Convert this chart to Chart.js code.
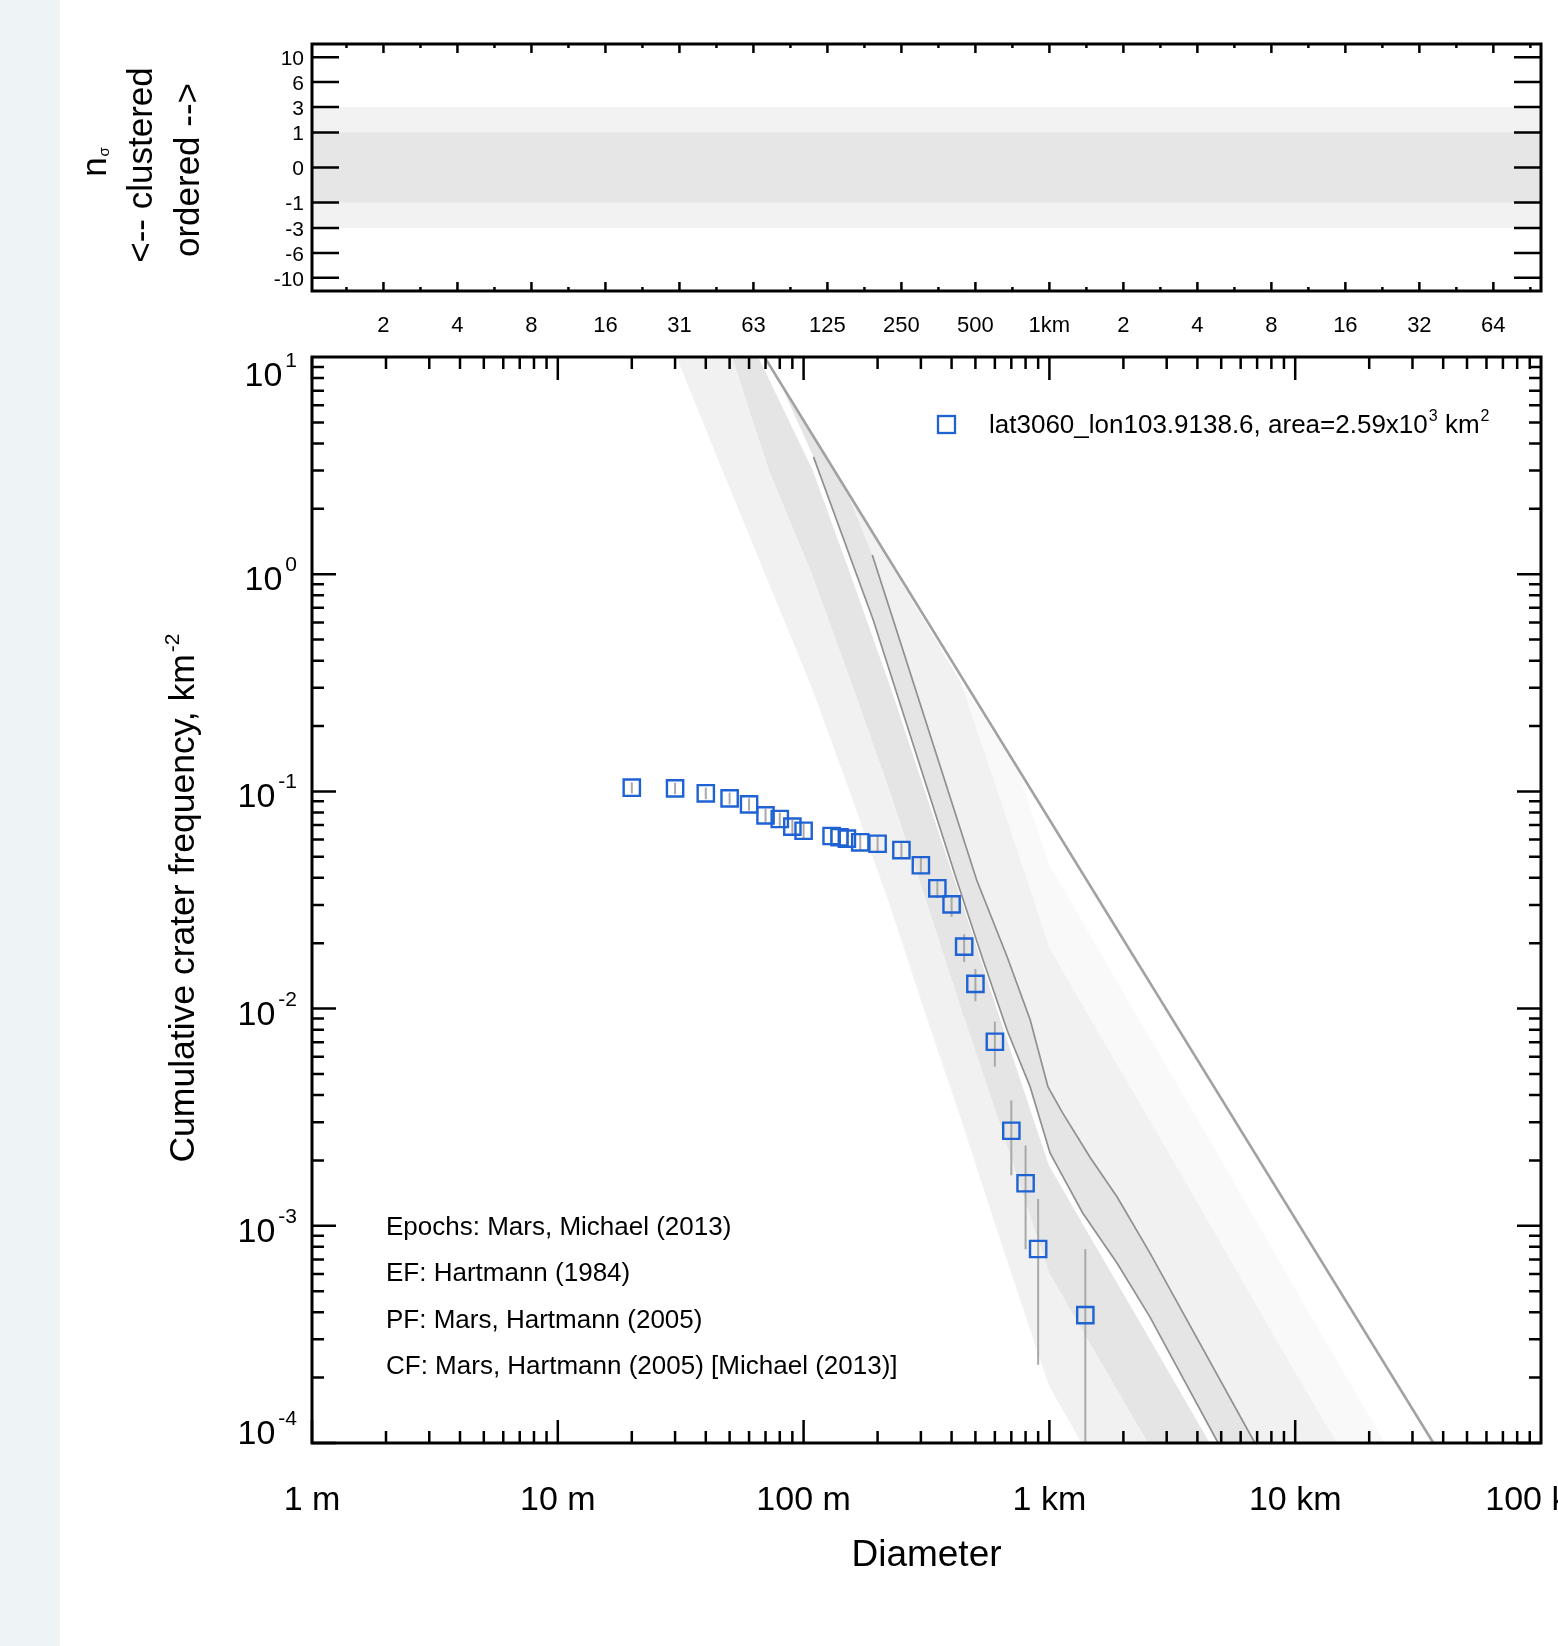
<!DOCTYPE html>
<html>
<head>
<meta charset="utf-8">
<script src="https://cdn.jsdelivr.net/npm/chart.js@4.4.0/dist/chart.umd.min.js"></script>
<style>
  html, body { margin: 0; padding: 0; background: #fff; }
  body { width: 1558px; height: 1646px; position: relative; overflow: hidden; }
  #strip { position: absolute; left: 0; top: 0; width: 60px; height: 1646px; background: #eef3f5; }
  canvas { position: absolute; left: 0; top: 0; }
</style>
</head>
<body>
<div id="strip"></div>
<canvas id="mainChart" width="1558" height="1646"></canvas>
<canvas id="sigmaChart" width="1558" height="1646"></canvas>
<script>
// crater counts: diameter (km) vs cumulative frequency (km^-2)
const diameters = [0.020, 0.030, 0.040, 0.050, 0.060, 0.070, 0.080, 0.090, 0.100, 0.130, 0.140, 0.150, 0.170,
                   0.200, 0.250, 0.300, 0.350, 0.400, 0.450, 0.500, 0.600, 0.700, 0.800, 0.900, 1.400];
const frequencies = [0.104, 0.1033, 0.098, 0.0929, 0.0872, 0.0776, 0.0746, 0.0688, 0.0659, 0.0623, 0.0615, 0.0606, 0.0583,
                     0.0574, 0.0537, 0.0457, 0.0358, 0.0302, 0.0193, 0.0130, 0.00704, 0.00274, 0.00157, 0.000782, 0.000388];
const errLow = [0.0977, 0.0970, 0.0919, 0.0870, 0.0814, 0.0721, 0.0692, 0.0636, 0.0608, 0.0574, 0.0566, 0.0558, 0.0536,
                0.0527, 0.0491, 0.0415, 0.0323, 0.0264, 0.0164, 0.0108, 0.0054, 0.00171, 0.00078, 0.000229, 0.000001];
const errHigh = [0.1103, 0.1096, 0.1041, 0.0988, 0.0930, 0.0831, 0.0800, 0.0740, 0.0710, 0.0672, 0.0664, 0.0654, 0.0630,
                 0.0621, 0.0583, 0.0499, 0.0391, 0.0333, 0.0220, 0.0152, 0.0087, 0.00377, 0.00234, 0.00133, 0.00078];

// equilibrium function and isochrone-like curves, [D km, N km^-2]
const equilibrium = [[0.06935, 10], [36.49, 0.0001]];
const iso1 = [[0.1097, 3.47], [0.192, 0.615], [0.4195, 0.0391], [0.5365, 0.01677], [0.673, 0.00795], [0.835, 0.00436],
              [1.007, 0.00216], [1.366, 0.001146], [1.889, 0.000671], [2.563, 0.000381], [4.857, 0.0001]];
const iso2 = [[0.1903, 1.225], [0.2316, 0.615], [0.506, 0.0391], [0.673, 0.01734], [0.835, 0.00889], [0.987, 0.00436],
              [1.133, 0.0033], [1.463, 0.002067], [1.889, 0.001354], [2.563, 0.00075], [6.855, 0.0001]];

// epoch shading boundaries
const edge0 = [[0.0304, 10], [0.0468, 3.0], [0.0697, 1.0], [0.108, 0.3], [0.154, 0.1], [0.224, 0.03], [0.308, 0.01],
               [0.441, 0.003], [0.604, 0.001], [0.860, 0.0003], [0.997, 0.000183], [1.352, 0.0001]];
const edge1 = [[0.0511, 10], [0.0722, 3.0], [0.108, 1.0], [0.159, 0.3], [0.224, 0.1], [0.319, 0.03], [0.436, 0.01],
               [0.625, 0.003], [0.860, 0.001], [0.997, 0.000607], [1.427, 0.0003], [2.513, 0.0001]];
const edge2 = [[0.0654, 10], [0.109, 3.0], [0.155, 1.0], [0.226, 0.3], [0.312, 0.1], [0.445, 0.03], [0.610, 0.01],
               [0.869, 0.003], [0.997, 0.00189], [1.379, 0.001], [2.563, 0.0003], [4.49, 0.0001]];
const edge4 = [[0.4364, 0.317], [0.6157, 0.1], [0.8774, 0.03], [0.997, 0.01916], [1.388, 0.01], [2.589, 0.003],
               [4.535, 0.001], [8.346, 0.0003], [14.77, 0.0001]];
const edge5 = [[0.7494, 0.123], [0.7954, 0.1], [0.997, 0.0462], [1.245, 0.03], [2.179, 0.01], [4.07, 0.003],
               [7.131, 0.001], [13.12, 0.0003], [23.2, 0.0001]];
const iso1Top = [0.0788, 7.91];
const iso2Top = [0.1494, 2.43];

// axis ticks
const xTickValues = [0.001, 0.01, 0.1, 1, 10, 100];
const xTickLabels = ['1 m', '10 m', '100 m', '1 km', '10 km', '100 km'];
const yTickValues = [10, 1, 0.1, 0.01, 0.001, 0.0001];
const yTickExps = ['1', '0', '-1', '-2', '-3', '-4'];
const sigmaTicks = [10, 6, 3, 1, 0, -1, -3, -6, -10];
const topTickValues = [0.001953125, 0.00390625, 0.0078125, 0.015625, 0.03125, 0.0625, 0.125, 0.25, 0.5,
                       1, 2, 4, 8, 16, 32, 64];
const topTickLabels = ['2', '4', '8', '16', '31', '63', '125', '250', '500', '1km', '2', '4', '8', '16', '32', '64'];

const FONT = '"Liberation Sans", Helvetica, Arial, sans-serif';
const BLUE = '#1f62d3';

const pts = arr => arr.map(([x, y]) => ({x, y}));
const sqrtScale = n => Math.sign(n) * Math.sqrt(Math.abs(n));

function drawRuns(ctx, parts, x, y, align) {
    let total = 0;
    parts.forEach(p => {
        ctx.font = p.size + 'px ' + FONT;
        p.w = ctx.measureText(p.text).width + (p.dx || 0);
        total += p.w;
    });
    let cx = align === 'right' ? x - total : align === 'center' ? x - total / 2 : x;
    ctx.textAlign = 'left';
    ctx.textBaseline = 'alphabetic';
    parts.forEach(p => {
        ctx.font = p.size + 'px ' + FONT;
        ctx.fillText(p.text, cx + (p.dx || 0), y + (p.dy || 0));
        cx += p.w;
    });
}

function polygon(points, color, order) {
    return {
        data: pts(points),
        fill: 'shape',
        backgroundColor: color,
        borderColor: 'rgba(0,0,0,0)',
        borderWidth: 0,
        pointRadius: 0,
        order: order
    };
}

const errBarPoints = [];
diameters.forEach((d, i) => {
    errBarPoints.push({x: d, y: errLow[i]}, {x: d, y: errHigh[i]}, {x: d, y: null});
});

const mainFrame = {
    id: 'mainFrame',
    afterDraw(chart) {
        const {ctx, chartArea: a} = chart;
        const xs = chart.scales.x, ys = chart.scales.y;
        ctx.save();
        ctx.strokeStyle = '#000';
        ctx.lineWidth = 2.5;
        ctx.beginPath();
        for (let e = -3; e < 2; e++) {
            for (let k = 1; k < 10; k++) {
                const px = xs.getPixelForValue(k * Math.pow(10, e));
                const len = k === 1 ? 23 : 12;
                ctx.moveTo(px, a.bottom); ctx.lineTo(px, a.bottom - len);
                ctx.moveTo(px, a.top); ctx.lineTo(px, a.top + len);
            }
        }
        for (let e = -4; e < 1; e++) {
            for (let k = 1; k < 10; k++) {
                const py = ys.getPixelForValue(k * Math.pow(10, e));
                const len = k === 1 ? 24 : 12;
                ctx.moveTo(a.left, py); ctx.lineTo(a.left + len, py);
                ctx.moveTo(a.right, py); ctx.lineTo(a.right - len, py);
            }
        }
        ctx.stroke();
        ctx.lineWidth = 3;
        ctx.strokeRect(a.left, a.top, a.right - a.left, a.bottom - a.top);

        ctx.fillStyle = '#000';
        // x tick labels
        ctx.font = '34px ' + FONT;
        ctx.textAlign = 'center';
        ctx.textBaseline = 'alphabetic';
        xTickValues.forEach((v, i) => ctx.fillText(xTickLabels[i], xs.getPixelForValue(v), 1510));
        // y tick labels
        yTickValues.forEach((v, i) => {
            const py = ys.getPixelForValue(v);
            const off = i === 0 ? 29 : (i === yTickValues.length - 1 ? 1 : 16);
            drawRuns(ctx, [{text: '10', size: 34}, {text: yTickExps[i], size: 21, dy: -19, dx: 3}], a.left - 15, py + off, 'right');
        });
        // axis titles
        ctx.font = '37px ' + FONT;
        ctx.textAlign = 'center';
        ctx.fillText('Diameter', (a.left + a.right) / 2, 1566);
        ctx.save();
        ctx.translate(194, (a.top + a.bottom) / 2 - 2);
        ctx.rotate(-Math.PI / 2);
        drawRuns(ctx, [{text: 'Cumulative crater frequency, km', size: 35.5}, {text: '-2', size: 21, dy: -15, dx: 2}], 0, 0, 'center');
        ctx.restore();

        // legend
        ctx.strokeStyle = BLUE;
        ctx.lineWidth = 2.3;
        ctx.strokeRect(938, 416, 17, 17);
        ctx.fillStyle = '#000';
        drawRuns(ctx, [
            {text: 'lat3060_lon103.9138.6, area=2.59x10', size: 26},
            {text: '3', size: 16, dy: -12, dx: 1},
            {text: ' km', size: 26},
            {text: '2', size: 16, dy: -12, dx: 1}
        ], 989, 433, 'left');

        // notes
        ctx.font = '26px ' + FONT;
        ctx.textAlign = 'left';
        const notes = ['Epochs: Mars, Michael (2013)', 'EF: Hartmann (1984)', 'PF: Mars, Hartmann (2005)',
                       'CF: Mars, Hartmann (2005) [Michael (2013)]'];
        const noteY = [1235, 1281, 1328, 1374];
        notes.forEach((t, i) => ctx.fillText(t, 386, noteY[i]));
        ctx.restore();
    }
};

new Chart(document.getElementById('mainChart'), {
    type: 'line',
    data: {
        datasets: [
            {
                data: diameters.map((d, i) => ({x: d, y: frequencies[i]})),
                showLine: false,
                pointStyle: 'rect',
                pointRadius: 11.5,
                pointBorderWidth: 2.4,
                pointBorderColor: BLUE,
                pointBackgroundColor: 'rgba(0,0,0,0)',
                order: 0
            },
            {
                data: errBarPoints,
                borderColor: '#a9a9a9',
                borderWidth: 2,
                pointRadius: 0,
                spanGaps: false,
                order: 1
            },
            {data: pts(equilibrium), borderColor: '#a2a2a2', borderWidth: 2.6, pointRadius: 0, order: 2},
            {data: pts(iso1), borderColor: '#909090', borderWidth: 1.7, pointRadius: 0, order: 2},
            {data: pts(iso2), borderColor: '#909090', borderWidth: 1.7, pointRadius: 0, order: 2},
            polygon(edge0.concat(edge1.slice().reverse()), '#f1f1f1', 3),
            polygon(edge1.concat(edge2.slice().reverse()), '#e5e5e5', 3),
            polygon([iso1Top].concat(iso1, iso2.slice().reverse(), [iso2Top]), '#e5e5e5', 3),
            polygon([iso2Top].concat(iso2, edge4.slice().reverse()), '#f1f1f1', 3),
            polygon(edge4.concat(edge5.slice().reverse()), '#f9f9f9', 3)
        ]
    },
    options: {
        responsive: false,
        animation: false,
        devicePixelRatio: 1,
        events: [],
        layout: {padding: {left: 312, right: 17, top: 357, bottom: 203}},
        plugins: {legend: {display: false}, tooltip: {enabled: false}},
        scales: {
            x: {type: 'logarithmic', min: 0.001, max: 100, display: false},
            y: {type: 'logarithmic', min: 0.0001, max: 10, display: false}
        }
    },
    plugins: [mainFrame]
});

const sigmaFrame = {
    id: 'sigmaFrame',
    afterDraw(chart) {
        const {ctx, chartArea: a} = chart;
        const xs = chart.scales.x, ys = chart.scales.y;
        ctx.save();
        ctx.strokeStyle = '#000';
        ctx.lineWidth = 2.5;
        ctx.beginPath();
        sigmaTicks.forEach(v => {
            const py = ys.getPixelForValue(sqrtScale(v));
            ctx.moveTo(a.left, py); ctx.lineTo(a.left + 27, py);
            ctx.moveTo(a.right, py); ctx.lineTo(a.right - 27, py);
        });
        topTickValues.forEach((v, i) => {
            const px = xs.getPixelForValue(v);
            ctx.moveTo(px, a.bottom); ctx.lineTo(px, a.bottom - 9);
            ctx.moveTo(px, a.top); ctx.lineTo(px, a.top + 9);
            const minors = i === 0 ? [v / Math.SQRT2, v * Math.SQRT2] : [v * Math.SQRT2];
            minors.forEach(m => {
                const pm = xs.getPixelForValue(m);
                ctx.moveTo(pm, a.bottom); ctx.lineTo(pm, a.bottom - 4);
                ctx.moveTo(pm, a.top); ctx.lineTo(pm, a.top + 4);
            });
        });
        ctx.stroke();
        ctx.lineWidth = 3;
        ctx.strokeRect(a.left, a.top, a.right - a.left, a.bottom - a.top);

        ctx.fillStyle = '#000';
        ctx.font = '21px ' + FONT;
        ctx.textAlign = 'right';
        ctx.textBaseline = 'middle';
        sigmaTicks.forEach(v => ctx.fillText(String(v), a.left - 8, ys.getPixelForValue(sqrtScale(v)) + 2));
        ctx.font = '22px ' + FONT;
        ctx.textAlign = 'center';
        ctx.textBaseline = 'alphabetic';
        topTickValues.forEach((v, i) => ctx.fillText(topTickLabels[i], xs.getPixelForValue(v), 332));

        const rotated = (x, y, parts) => {
            ctx.save();
            ctx.translate(x, y);
            ctx.rotate(-Math.PI / 2);
            drawRuns(ctx, parts, 0, 0, 'center');
            ctx.restore();
        };
        rotated(106, 162, [{text: 'n', size: 35}, {text: '\u03c3', size: 15, dy: 3, dx: 1}]);
        rotated(152, 165, [{text: '<-- clustered', size: 35}]);
        rotated(199, 170, [{text: 'ordered -->', size: 35}]);
        ctx.restore();
    }
};

new Chart(document.getElementById('sigmaChart'), {
    type: 'line',
    data: {
        datasets: [
            {
                data: [{x: 0.001, y: sqrtScale(3)}, {x: 100, y: sqrtScale(3)}],
                fill: {value: sqrtScale(-3)},
                backgroundColor: '#f2f2f2',
                borderColor: 'rgba(0,0,0,0)',
                borderWidth: 0,
                pointRadius: 0,
                order: 2
            },
            {
                data: [{x: 0.001, y: sqrtScale(1)}, {x: 100, y: sqrtScale(1)}],
                fill: {value: sqrtScale(-1)},
                backgroundColor: '#e6e6e6',
                borderColor: 'rgba(0,0,0,0)',
                borderWidth: 0,
                pointRadius: 0,
                order: 1
            }
        ]
    },
    options: {
        responsive: false,
        animation: false,
        devicePixelRatio: 1,
        events: [],
        layout: {padding: {left: 312, right: 17, top: 44, bottom: 1355}},
        plugins: {legend: {display: false}, tooltip: {enabled: false}},
        scales: {
            x: {type: 'logarithmic', min: 0.001, max: 100, display: false},
            y: {type: 'linear', min: -3.54, max: 3.54, display: false}
        }
    },
    plugins: [sigmaFrame]
});
</script>
</body>
</html>
